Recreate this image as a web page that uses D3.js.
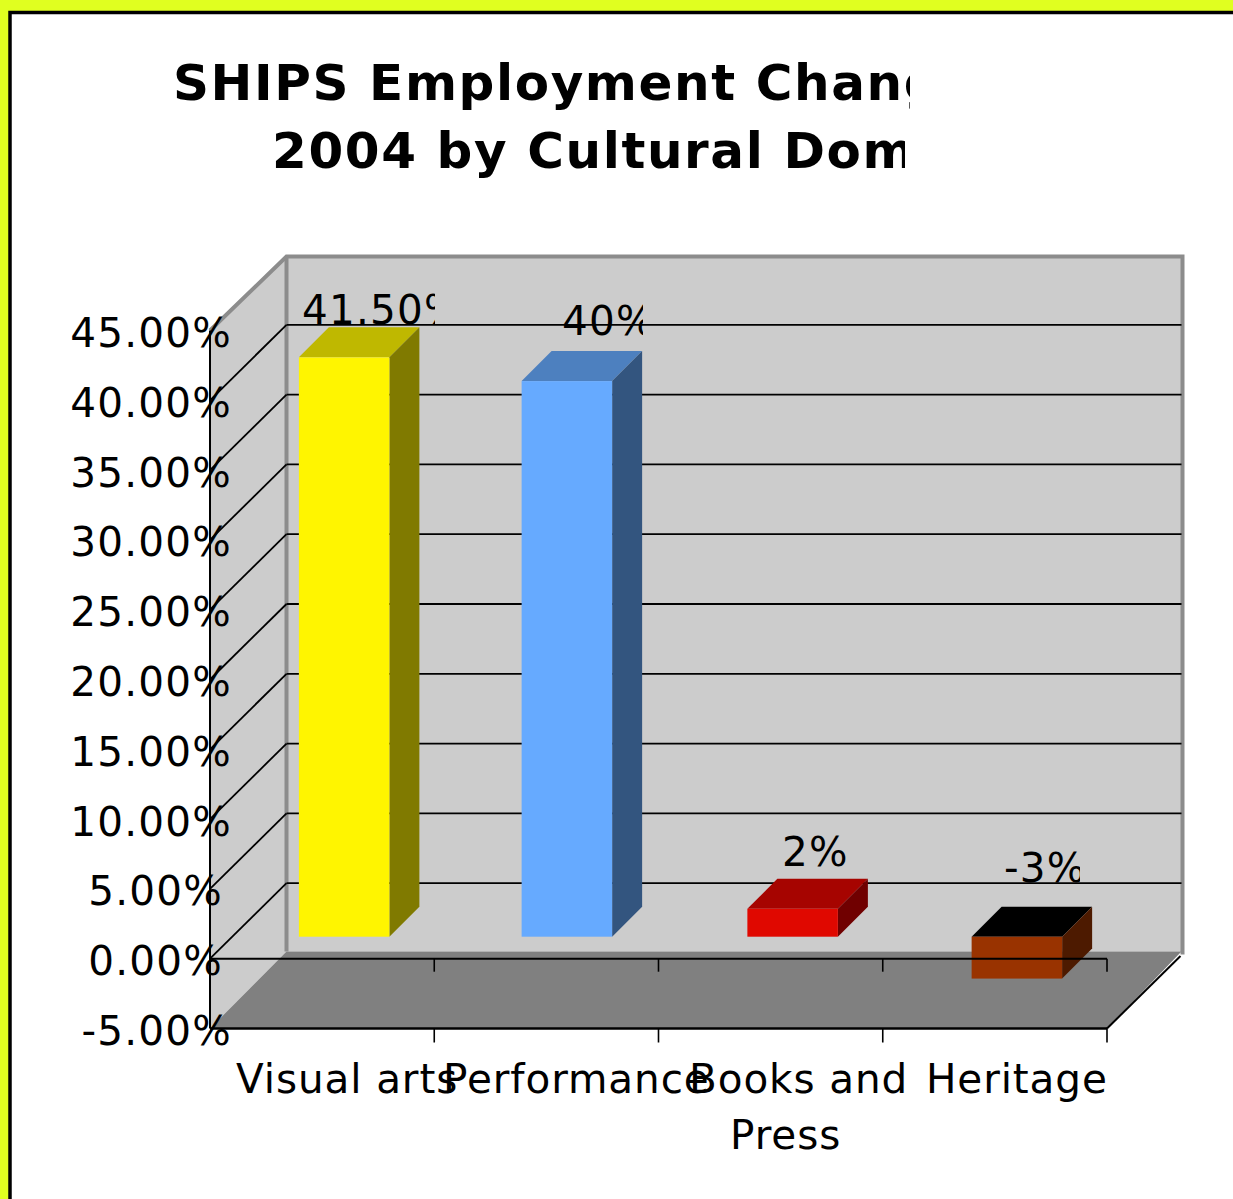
<!DOCTYPE html>
<html><head><meta charset="utf-8">
<script src="https://cdn.jsdelivr.net/npm/d3@7"></script>
<style>html,body{margin:0;padding:0;background:#fff;overflow:hidden}svg{display:block}text{font-family:"DejaVu Sans",sans-serif;fill:#000}</style>
</head><body><div id="chart"></div>
<script>
const categories = ["Visual arts", "Performance", "Books and", "Heritage"];
const categorySecondLines = ["", "", "Press", ""];
const values = [41.5, 39.8, 2, -3];
const valueLabels = ["41.50%", "40%", "2%", "-3%"];
const frontColors = ["#fff500", "#66aaff", "#e00800", "#993300"];
const topColors = ["#bfb800", "#4d80bf", "#a60400", "#000000"];
const sideColors = ["#807a00", "#33557f", "#700000", "#4d1a00"];
const yTicks = [-5, 0, 5, 10, 15, 20, 25, 30, 35, 40, 45];
const titleLines = ["SHIPS Employment Change", "2004 by Cultural Domain"];

const W = 1233, H = 1199;
const svg = d3.select("#chart").append("svg").attr("width", W).attr("height", H);
const defs = svg.append("defs");
const clip = (id, x, y, w, h) => defs.append("clipPath").attr("id", id).append("rect").attr("x", x).attr("y", y).attr("width", w).attr("height", h);

svg.append("rect").attr("width", W).attr("height", H).attr("fill", "#e0ff20");
svg.append("rect").attr("x", 10).attr("y", 12.5).attr("width", W + 20).attr("height", H + 20).attr("fill", "#fff").attr("stroke", "#000").attr("stroke-width", 3.5);

const x = d3.scaleBand().domain(categories).range([210, 1107]);
const y = d3.scaleLinear().domain([-5, 45]).range([1028.5, 330.5]);
const depthX = 76.5, depthY = 75.5;
const poly = pts => pts.map(p => p.join(",")).join(" ");
const [x0, x1] = x.range();
const yTop = y(45), yBot = y(-5);
const backTop = yTop - depthY + 1.5, backBot = yBot - depthY - 1.5;

// walls and floor
svg.append("polygon").attr("points", poly([[x0, yTop], [x0 + depthX, backTop], [x0 + depthX, backBot], [x0, yBot]])).attr("fill", "#cccccc");
svg.append("rect").attr("x", x0 + depthX).attr("y", backTop).attr("width", x1 - x0).attr("height", backBot - backTop).attr("fill", "#cccccc");
svg.append("polygon").attr("points", poly([[x0, yBot], [x1, yBot], [x1 + depthX - 2, backBot], [x0 + depthX, backBot]])).attr("fill", "#808080");
svg.append("path").attr("d", `M${x0},${yTop}L${x0 + depthX},${backTop}H${x1 + depthX - 1}V${backBot + 3}`).attr("fill", "none").attr("stroke", "#8c8c8c").attr("stroke-width", 4);
svg.append("line").attr("x1", x0 + depthX).attr("x2", x0 + depthX).attr("y1", backTop).attr("y2", backBot).attr("stroke", "#8c8c8c").attr("stroke-width", 4);

// gridlines on back and side walls
const gridG = svg.append("g");
yTicks.filter(t => t >= 0 && t < 45).forEach(t => {
  const yy = y(t);
  gridG.append("line").attr("x1", x0).attr("y1", yy).attr("x2", x0 + depthX).attr("y2", yy - depthY).attr("stroke", "#000").attr("stroke-width", 1.8);
  gridG.append("line").attr("x1", x0 + depthX).attr("y1", yy - depthY).attr("x2", x1 + depthX - 2).attr("y2", yy - depthY).attr("stroke", "#000").attr("stroke-width", 1.8);
});

// bars
const barW = 90.5, barDepth = 30, barOff = 22;
const barNudge = [0, -1.5, 0, 0];
const bars = svg.append("g").selectAll("g").data(values).join("g");
const bx = (d, i) => x(categories[i]) + x.bandwidth() / 2 - barW / 2 + barOff + barNudge[i];
const by = v => y(v) - barOff;
bars.append("polygon").attr("fill", (d, i) => topColors[i]).attr("points", (d, i) => {
  const a = bx(d, i), t = by(Math.max(d, 0));
  return poly([[a, t], [a + barDepth, t - barDepth], [a + barW + barDepth, t - barDepth], [a + barW, t]]);
});
bars.append("polygon").attr("fill", (d, i) => sideColors[i]).attr("points", (d, i) => {
  const a = bx(d, i) + barW, t = by(Math.max(d, 0)), b = by(Math.min(d, 0));
  return poly([[a, t], [a + barDepth, t - barDepth], [a + barDepth, b - barDepth], [a, b]]);
});
bars.append("rect").attr("fill", (d, i) => frontColors[i]).attr("x", bx).attr("width", barW)
  .attr("y", d => by(Math.max(d, 0))).attr("height", d => Math.abs(by(d) - by(0)));

// front axes
const axes = svg.append("g").attr("stroke", "#000");
axes.append("line").attr("x1", x0).attr("x2", x0).attr("y1", yTop).attr("y2", yBot).attr("stroke-width", 2);
axes.append("line").attr("x1", x0).attr("x2", x1).attr("y1", y(0)).attr("y2", y(0)).attr("stroke-width", 2);
axes.append("line").attr("x1", x0).attr("x2", x1).attr("y1", yBot).attr("y2", yBot).attr("stroke-width", 2.5);
axes.append("line").attr("x1", x1).attr("y1", yBot).attr("x2", x1 + depthX - 3).attr("y2", yBot - depthY + 3).attr("stroke-width", 2);
categories.forEach((c, i) => {
  const tx = x(c) + x.bandwidth();
  axes.append("line").attr("x1", tx).attr("x2", tx).attr("y1", y(0)).attr("y2", y(0) + 13).attr("stroke-width", 1.6);
  axes.append("line").attr("x1", tx).attr("x2", tx).attr("y1", yBot).attr("y2", yBot + 14).attr("stroke-width", 1.6);
});

// y tick labels
const fs = 40.5, ls = 1.2, catLs = 0.9;
svg.append("g").selectAll("text").data(yTicks).join("text")
  .attr("x", d => (String(Math.abs(d)).length === 1 && d >= 0) ? 223 : 232)
  .attr("y", d => y(d) + 16.5).attr("text-anchor", "end").attr("font-size", fs).attr("letter-spacing", ls)
  .text(d => (d < 0 ? "-" : "") + Math.abs(d).toFixed(2) + "%");

// category labels
const catDx = [25, 30, 28, 22];
svg.append("g").selectAll("text").data(categories).join("text")
  .attr("x", (d, i) => x(d) + x.bandwidth() / 2 + catDx[i]).attr("y", 1093)
  .attr("text-anchor", "middle").attr("font-size", fs).attr("letter-spacing", catLs).text(d => d);
svg.append("g").selectAll("text").data(categorySecondLines.filter(d => d)).join("text")
  .attr("x", d => x(categories[categorySecondLines.indexOf(d)]) + x.bandwidth() / 2 + 15).attr("y", 1149)
  .attr("text-anchor", "middle").attr("font-size", fs).attr("letter-spacing", catLs).text(d => d);

// value labels, clipped as in the source
const labelLeft = [302, 562, 782, 1004], labelBase = [324, 335, 866, 882], labelClipW = [137, 85, 140, 80];
valueLabels.forEach((t, i) => {
  clip("vl" + i, labelLeft[i] - 4, labelBase[i] - 50, labelClipW[i], 70);
  svg.append("text").attr("x", labelLeft[i]).attr("y", labelBase[i]).attr("font-size", fs).attr("letter-spacing", ls)
    .attr("clip-path", `url(#vl${i})`).text(t);
});

// title, clipped on the right as in the source
clip("t0", 160, 40, 750, 80); clip("t1", 160, 110, 745, 80);
svg.append("text").attr("x", 173).attr("y", 100).attr("font-size", 50).attr("font-weight", "bold").attr("letter-spacing", 1.6).attr("clip-path", "url(#t0)").text(titleLines[0]);
svg.append("text").attr("x", 272).attr("y", 168).attr("font-size", 50).attr("font-weight", "bold").attr("letter-spacing", 1.6).attr("clip-path", "url(#t1)").text(titleLines[1]);
</script></body></html>
